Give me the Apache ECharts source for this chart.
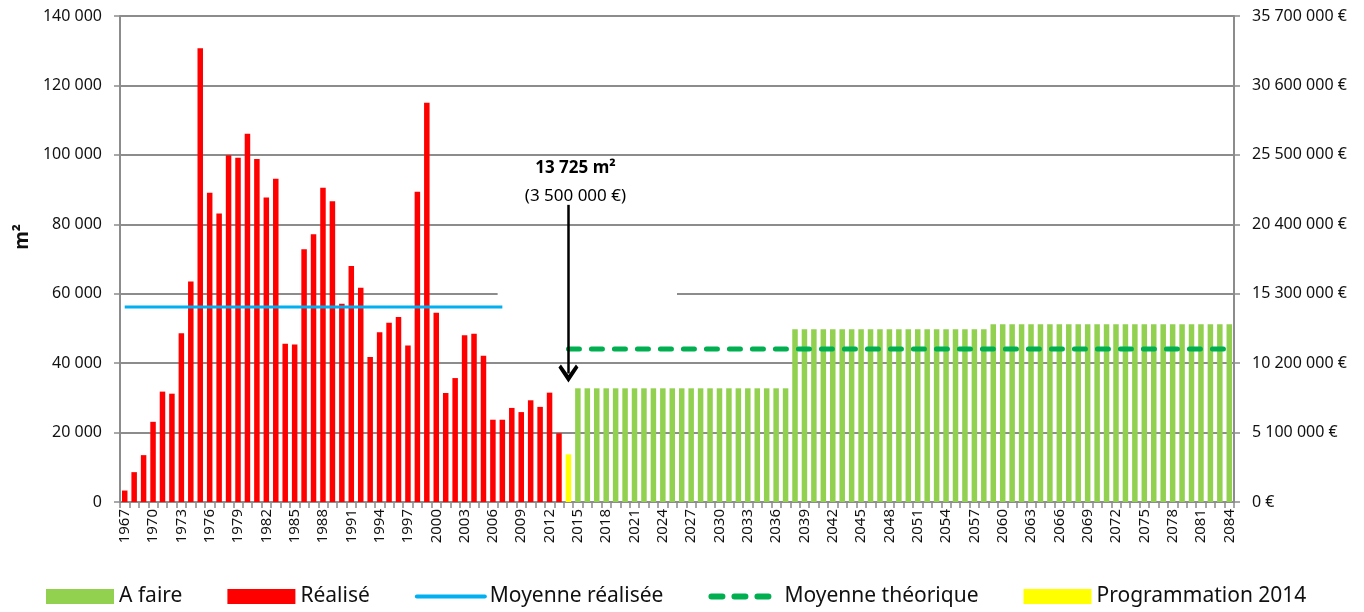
<!DOCTYPE html>
<html>
<head>
<meta charset="utf-8">
<script src="https://cdn.jsdelivr.net/npm/echarts@6/dist/echarts.min.js"></script>
<style>
  html, body { margin: 0; padding: 0; background: #fff; }
  #chart { width: 1364px; height: 612px; }
</style>
</head>
<body>
<div id="chart"></div>
<script>
// années 1967 -> 2084
var years = [];
for (var y = 1967; y <= 2084; y++) years.push(String(y));

// surfaces réalisées 1967-2013 (m²)
var realise = [3300, 8600, 13500, 23100, 31800, 31200, 48600, 63500, 130700, 89100,
    83100, 99900, 99200, 106100, 98800, 87700, 93100, 45600, 45400, 72800,
    77100, 90500, 86600, 57100, 68000, 61700, 41800, 48900, 51600, 53300,
    45100, 89400, 115000, 54500, 31400, 35700, 48000, 48500, 42100, 23700,
    23700, 27100, 25900, 29300, 27400, 31500, 19800];

// programmation 2014
var programmation = [13725];

// à faire 2015-2084
var aFaire = [32750, 32750, 32750, 32750, 32750, 32750, 32750, 32750, 32750, 32750,
    32750, 32750, 32750, 32750, 32750, 32750, 32750, 32750, 32750, 32750,
    32750, 32750, 32750,
    49750, 49750, 49750, 49750, 49750, 49750, 49750, 49750, 49750, 49750,
    49750, 49750, 49750, 49750, 49750, 49750, 49750, 49750, 49750, 49750, 49750,
    51180, 51180, 51180, 51180, 51180, 51180, 51180, 51180, 51180, 51180,
    51180, 51180, 51180, 51180, 51180, 51180, 51180, 51180, 51180, 51180,
    51180, 51180, 51180, 51180, 51180, 51180];

// moyennes
var moyenneRealisee = [['1967', 56170], ['2007', 56170]];
var moyenneTheorique = [['2014', 44070], ['2084', 44070]];

// axes
var leftMax = 140000, leftStep = 20000;
var rightMax = 35700000, rightStep = 5100000;

function pad(n) { var a = []; for (var i = 0; i < n; i++) a.push('-'); return a; }
function fmt(v) { return String(v).replace(/\B(?=(\d{3})+(?!\d))/g, ' '); }

var nR = realise.length, nP = programmation.length;
var realiseData = realise.concat(pad(years.length - nR));
var progData = pad(nR).concat(programmation).concat(pad(years.length - nR - nP));
var aFaireData = pad(nR + nP).concat(aFaire);

var font = "'Noto Sans', sans-serif";
var chevron = 'path://M0,10 L10,0 L20,10 L17.5,12 L10,5 L2.5,12 Z';

var chart = echarts.init(document.getElementById('chart'));
chart.setOption({
    animation: false,
    textStyle: { fontFamily: font },
    grid: { left: 120, right: 130, top: 16, bottom: 110 },
    legend: {
        left: 41, bottom: 0,
        itemWidth: 68, itemHeight: 15, itemGap: 45,
        textStyle: { fontSize: 21, color: '#111', fontFamily: font },
        data: [
            { name: 'A faire', icon: 'rect' },
            { name: 'Réalisé', icon: 'rect' },
            { name: 'Moyenne réalisée', itemStyle: { opacity: 0 },
              lineStyle: { width: 4, color: '#00b0f0', cap: 'round' } },
            { name: 'Moyenne théorique', itemStyle: { opacity: 0 },
              lineStyle: { width: 6, color: '#00b050', type: [11, 12], cap: 'round' } },
            { name: 'Programmation 2014', icon: 'rect' }
        ]
    },
    xAxis: {
        type: 'category',
        data: years,
        axisLine: { lineStyle: { color: '#8c8c8c', width: 2 } },
        axisTick: { show: true, interval: 0, length: 6, lineStyle: { color: '#8c8c8c', width: 1.5 } },
        axisLabel: { interval: 2, rotate: 90, fontSize: 15, color: '#111', margin: 7 }
    },
    yAxis: [{
        type: 'value',
        min: 0, max: leftMax, interval: leftStep,
        name: 'm²',
        nameLocation: 'middle',
        nameGap: 88,
        nameTextStyle: { fontSize: 19, fontWeight: 'bold', color: '#111', padding: [0, 0, 0, 44] },
        axisLine: { show: true, lineStyle: { color: '#8c8c8c', width: 2 } },
        axisTick: { show: true, length: 6, lineStyle: { color: '#8c8c8c', width: 1.5 } },
        axisLabel: { fontSize: 16, color: '#111', margin: 18, formatter: function (v) { return fmt(v); } },
        splitLine: { lineStyle: { color: '#8c8c8c', width: 2 } }
    }, {
        type: 'value',
        min: 0, max: rightMax, interval: rightStep,
        axisLine: { show: true, lineStyle: { color: '#8c8c8c', width: 2 } },
        axisTick: { show: true, length: 6, lineStyle: { color: '#8c8c8c', width: 1.5 } },
        axisLabel: { fontSize: 16, color: '#111', margin: 18, formatter: function (v) { return fmt(v) + ' €'; } },
        splitLine: { show: false }
    }],
    series: [
        {
            name: 'A faire', type: 'bar', stack: 'm2', barWidth: 5.5,
            itemStyle: { color: '#92d050' },
            data: aFaireData
        },
        {
            name: 'Réalisé', type: 'bar', stack: 'm2', barWidth: 5.5,
            itemStyle: { color: '#ff0000' },
            data: realiseData,
            markArea: {
                silent: true,
                itemStyle: { color: '#ffffff' },
                data: [[{ coord: ['2007', 61000] }, { coord: ['2025', 59000] }]]
            }
        },
        {
            name: 'Programmation 2014', type: 'bar', stack: 'm2', barWidth: 5.5,
            itemStyle: { color: '#ffff00' },
            data: progData,
            markLine: {
                silent: true,
                symbol: ['none', chevron],
                symbolSize: [20, 18],
                lineStyle: { color: '#000', width: 2.5, type: 'solid' },
                label: { show: false },
                data: [[{ coord: ['2014', 85600] }, { coord: ['2014', 37000] }]]
            },
            markPoint: {
                silent: true,
                symbolSize: 0,
                label: {
                    show: true, position: 'inside', offset: [7, 0],
                    formatter: '{b|13 725 m²}\n{n|(3 500 000 €)}',
                    rich: {
                        b: { fontSize: 17, fontWeight: 'bold', color: '#000', lineHeight: 28, fontFamily: font },
                        n: { fontSize: 17, color: '#000', lineHeight: 28, fontFamily: font }
                    }
                },
                data: [{ coord: ['2014', 92180] }]
            }
        },
        {
            name: 'Moyenne réalisée', type: 'line', symbol: 'none',
            itemStyle: { color: '#00b0f0' },
            lineStyle: { color: '#00b0f0', width: 3 },
            data: moyenneRealisee
        },
        {
            name: 'Moyenne théorique', type: 'line', symbol: 'none',
            itemStyle: { color: '#00b050' },
            lineStyle: { color: '#00b050', width: 5, type: [11, 12], cap: 'round' },
            data: moyenneTheorique
        }
    ]
});
</script>
</body>
</html>
